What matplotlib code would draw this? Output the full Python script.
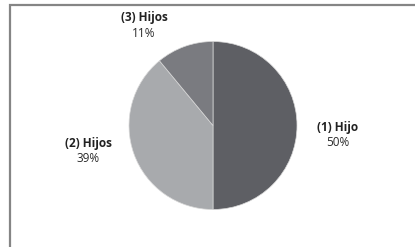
import matplotlib
matplotlib.use("Agg")
import matplotlib.pyplot as plt
from matplotlib.patches import Rectangle

categories = ["(1) Hijo", "(2) Hijos", "(3) Hijos"]
values = [50, 39, 11]
colors = ["#5e5f64", "#a8aaad", "#7a7b80"]
label_pos = [(338, 127), (88, 143), (144, 18)]  # pixel coords (x, y from top)

W, H = 415, 247
fig = plt.figure(figsize=(W / 100, H / 100), dpi=100)
fig.patch.set_facecolor("white")
ax = fig.add_axes([0, 0, 1, 1])

ax.pie(values, colors=colors, startangle=90, counterclock=False,
       center=(213, H - 125.5), radius=84,
       wedgeprops=dict(edgecolor="#d8d8d8", linewidth=0.5), frame=True)
ax.set_xlim(0, W)
ax.set_ylim(0, H)
ax.set_aspect("equal")
ax.axis("off")

total = sum(values)
for cat, v, (x, y) in zip(categories, values, label_pos):
    ax.text(x, H - y, cat, ha="center", va="center", fontsize=8.5,
            fontweight="bold", family="Open Sans", color="#222222")
    ax.text(x, H - y - 16, f"{round(100 * v / total)}%", ha="center",
            va="center", fontsize=8.5, family="Open Sans", color="#2a2a2a")

# outer frame (cropped at right/bottom)
ax.add_patch(Rectangle((10, -10), W + 10, H - 5 + 10, fill=False,
                       edgecolor="#858585", linewidth=1.6, clip_on=True))

fig.savefig("out.png", dpi=100, facecolor="white")
